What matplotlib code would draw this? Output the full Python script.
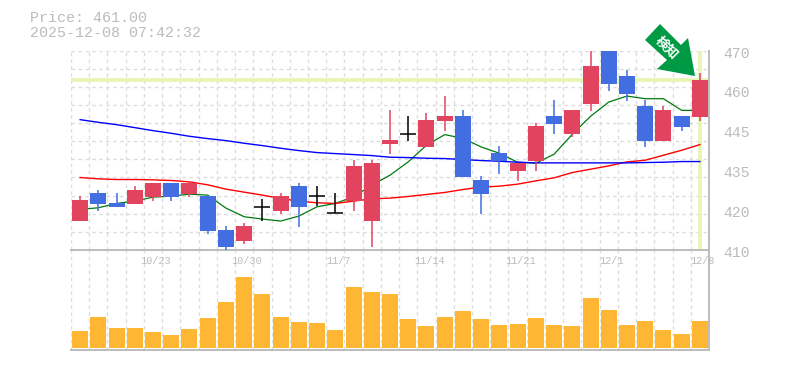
import matplotlib
matplotlib.use('Agg')
import matplotlib.pyplot as plt
from matplotlib.patches import Polygon
from matplotlib.transforms import offset_copy

# price info
title_lines = ['Price: 461.00', '2025-12-08 07:42:32']
last_price = 461.00

opens = [418.7, 427.1, 424.1, 423.8, 425.9, 430.1, 426.8, 426.2, 416.0, 412.7, 423.0, 421.7, 429.2, 426.1, 421.0,
         424.7, 418.7, 441.8, 445.0, 440.9, 448.7, 450.2, 431.0, 439.1, 433.7, 436.7, 450.2, 444.8, 453.8, 470.0,
         462.2, 453.2, 442.7, 450.2, 449.9]
closes = [425.0, 423.8, 422.9, 428.0, 430.1, 425.9, 430.1, 415.7, 410.9, 417.2, 423.0, 426.2, 422.9, 426.1, 421.0,
          435.2, 436.1, 443.0, 445.0, 449.0, 450.2, 431.9, 426.8, 436.7, 436.1, 447.2, 447.8, 452.0, 465.2, 459.8,
          456.8, 442.7, 452.0, 446.9, 461.0]
highs = [426.2, 428.0, 427.1, 429.2, 430.1, 430.1, 430.7, 426.2, 417.2, 418.1, 425.3, 427.1, 430.1, 429.2, 427.1,
         437.0, 437.0, 452.0, 450.2, 451.1, 456.2, 452.0, 432.2, 441.2, 436.1, 448.1, 455.0, 452.0, 470.0, 470.0,
         464.0, 455.0, 453.2, 450.2, 463.1]
lows = [418.7, 421.7, 422.9, 423.8, 424.7, 424.7, 425.9, 414.8, 410.0, 411.8, 418.7, 420.8, 416.9, 423.2, 421.0,
        421.7, 410.9, 438.8, 442.7, 440.9, 445.7, 431.9, 420.8, 432.8, 430.7, 433.7, 444.8, 443.9, 451.7, 457.7,
        454.7, 440.9, 442.7, 445.7, 448.7]
volumes = [17, 31, 20, 20, 16, 13, 19, 30, 46, 71, 54, 31, 26, 25, 18, 61, 56, 54, 29, 22, 31, 37, 29, 23, 24, 30,
           23, 22, 50, 38, 23, 27, 18, 14, 27]

# moving averages
ma_short = [422.2, 422.7, 424.0, 424.7, 425.9, 426.2, 426.8, 426.5, 422.6, 420.0, 419.3, 418.7, 420.2, 423.0, 424.0,
            426.0, 429.5, 432.5, 436.5, 441.5, 444.7, 443.6, 441.0, 439.1, 436.4, 436.1, 438.8, 444.8, 450.2, 454.5,
            456.3, 455.5, 455.5, 452.0, 452.0]
ma_mid = [431.8, 431.4, 431.2, 431.2, 431.1, 430.9, 430.5, 429.6, 428.3, 427.4, 426.5, 425.5, 424.7, 424.2, 424.0,
          424.7, 425.4, 425.6, 426.1, 426.7, 427.3, 428.2, 428.9, 429.2, 429.8, 430.8, 431.7, 433.3, 434.3, 435.3,
          436.5, 437.0, 438.5, 440.0, 441.7]
ma_long = [449.2, 448.4, 447.7, 446.8, 445.9, 445.1, 444.2, 443.5, 442.9, 442.1, 441.4, 440.6, 439.9, 439.3, 439.0,
           438.7, 438.4, 437.9, 437.8, 437.6, 437.5, 437.2, 436.9, 436.7, 436.4, 436.2, 436.2, 436.2, 436.2, 436.2,
           436.2, 436.3, 436.4, 436.6, 436.6]

x_tick_pos = [4, 9, 14, 19, 24, 29, 34]
x_tick_labels = ['10/23', '10/30', '11/7', '11/14', '11/21', '12/1', '12/8']
y_tick_pos = [470, 458, 446, 434, 422, 410]
y_tick_labels = ['470', '460', '445', '435', '420', '410']

UP = '#e24460'
DOWN = '#426ee2'
GRID = '#dcdcdc'
AXIS = '#bcbcbc'
HILITE = '#e6f5b0'
W, H = 785, 370

plt.rcParams['font.family'] = ['Liberation Mono', 'DejaVu Sans Mono']

fig = plt.figure(figsize=(W / 100, H / 100), dpi=100, facecolor='white')
# axes boxes in pixels from the top left
ax = fig.add_axes([71 / W, 1 - 250 / H, 638 / W, 199.5 / H])
vax = fig.add_axes([71 / W, 1 - 349.5 / H, 638 / W, 99.5 / H])
ax.set_zorder(2)
ax.patch.set_alpha(0)

n = len(opens)
for a in (ax, vax):
    a.set_xlim(-0.5, n - 0.5)
    a.set_xticks([i - 0.5 for i in range(n)])
    a.tick_params(length=0, labelbottom=False, labelleft=False)
    a.grid(True, axis='x', color=GRID, linestyle=(0, (2.5, 2.5)), linewidth=1)
    a.set_axisbelow(True)
    for s in a.spines.values():
        s.set_visible(False)
    for s in ('bottom', 'right'):
        a.spines[s].set_visible(True)
        a.spines[s].set_color(AXIS)
        a.spines[s].set_linewidth(1.4)

ax.set_ylim(410, 470)
ax.set_yticks([410 + 60 * i / 11 for i in range(12)])
ax.grid(True, axis='y', color=GRID, linestyle=(0, (2.5, 2.5)), linewidth=1)

# highlight of the last price and last bar
ax.axhline(last_price, color=HILITE, linewidth=2.6, zorder=1)
ax.axvline(n - 1, color=HILITE, linewidth=2.6, zorder=1)

xs = list(range(n))
ax.plot(xs, ma_short, color='#007a10', linewidth=0.9, zorder=2)
ax.plot(xs, ma_mid, color='#ff0000', linewidth=1.0, zorder=2)
ax.plot(xs, ma_long, color='#0000ff', linewidth=1.0, zorder=2)

bar_w = 16 / (638 / n)
for i in xs:
    o, c = opens[i], closes[i]
    if o == c:
        ax.vlines(i, lows[i], highs[i], color='black', linewidth=1.1, zorder=3)
        ax.hlines(o, i - bar_w / 2, i + bar_w / 2, color='black', linewidth=1.1, zorder=3)
        continue
    col = UP if c > o else DOWN
    ax.vlines(i, lows[i], highs[i], color=col, linewidth=1.1, zorder=3)
    ax.bar(i, abs(c - o), bottom=min(o, c), width=bar_w, color=col, linewidth=0, zorder=4)

vax.set_ylim(-1.5, 98)
vax.set_yticks([])
vax.bar(xs, volumes, width=bar_w, color='#ffb733', linewidth=0, zorder=3)

for p, lab in zip(y_tick_pos, y_tick_labels):
    tr = offset_copy(ax.get_yaxis_transform(), fig=fig, x=10.5, y=-2.2, units='points')
    ax.text(1, p, lab, transform=tr, color=AXIS, fontsize=10.6, ha='left', va='center', clip_on=False)

for p, lab in zip(x_tick_pos, x_tick_labels):
    tr = offset_copy(ax.get_xaxis_transform(), fig=fig, x=2, y=-4.5, units='points')
    ax.text(p, 0, lab, transform=tr, color=AXIS, fontsize=7.4, ha='center', va='top', clip_on=False)

for line, y in zip(title_lines, (18, 33)):
    fig.text(30 / W, 1 - y / H, line, color=AXIS, fontsize=10.8, ha='left', va='center')

# signal arrow, outline in pixels from the top left
arrow = [(660, 24), (681, 45), (688, 38), (695, 76), (657, 69), (667, 60), (645, 40)]
fig.add_artist(Polygon([(x / W, 1 - y / H) for x, y in arrow], closed=True, transform=fig.transFigure,
                       facecolor='#009944', edgecolor='none', zorder=10))
fig.text(667 / W, 1 - 47.5 / H, '検知', color='white', fontsize=9.5, fontweight='bold', rotation=-45,
         family=['Noto Sans CJK JP', 'DejaVu Sans'], ha='center', va='center', zorder=11, rotation_mode='anchor')

fig.savefig('out.png', dpi=100)
